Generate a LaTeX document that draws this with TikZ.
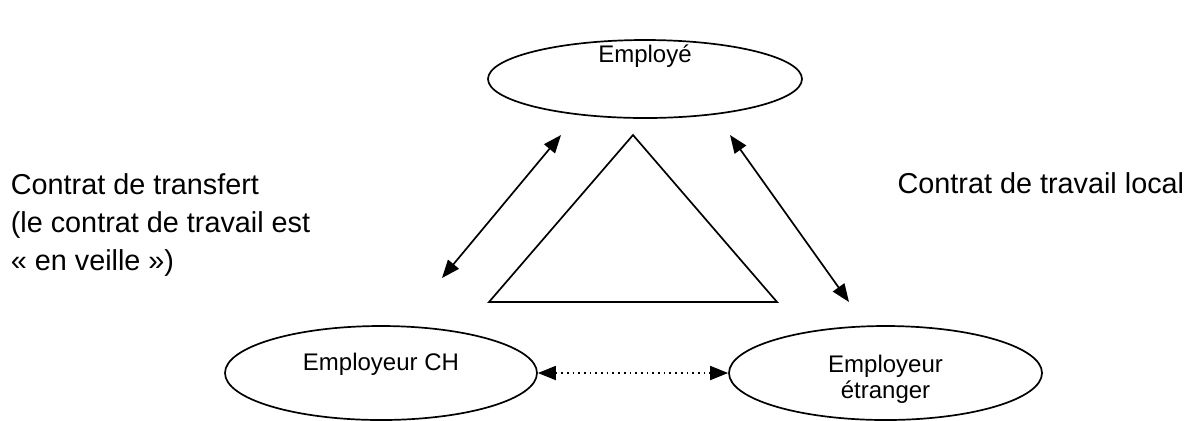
\documentclass[tikz,border=0pt]{standalone}
\usepackage{fontspec}
\setmainfont{Liberation Sans}
\usetikzlibrary{shapes.geometric,arrows.meta}
\begin{document}
\begin{tikzpicture}[x=0.5pt, y=-0.5pt, line width=0.85pt,
    ellipse_style/.style={ellipse,draw=black,inner sep=0pt},
    label_style/.style={font=\fontsize{12}{13}\selectfont,inner sep=0pt},
    side_style/.style={font=\fontsize{14.4}{19}\selectfont,inner sep=0pt,align=left},
    arrow_style/.style={draw=black,{Triangle[length=9pt,width=7pt]}-{Triangle[length=9pt,width=7pt]}}]
  \useasboundingbox (0,0) rectangle (1192,420);
  \draw
    (645,79) node[ellipse_style,minimum width=157pt,minimum height=39pt] (employe){}
    (381,373) node[ellipse_style,minimum width=156pt,minimum height=47pt] (ch){}
    (885.5,373) node[ellipse_style,minimum width=156.5pt,minimum height=47pt] (etranger){};
  \node[label_style,anchor=base] (t_employe) at (645,62) {Employé};
  \node[label_style,anchor=base] (t_ch) at (381,370) {Employeur CH};
  \node[label_style,anchor=base,align=center] (t_etranger) at (885.5,398) {Employeur\\étranger};
  % triangle
  \draw (633,135) coordinate (apex) -- (777,302) coordinate (right) -- (489,302) coordinate (left) -- cycle;
  % contract arrows
  \coordinate (a1) at (442,278);
  \coordinate (a2) at (561,135);
  \coordinate (b1) at (730,135);
  \coordinate (b2) at (849,302);
  \draw[arrow_style] (a1) -- (a2);
  \draw[arrow_style] (b1) -- (b2);
  \draw[arrow_style,dotted] (ch.east) -- (etranger.west);
  % side texts
  \node[side_style,anchor=base west] (transfert) at (10,270) {Contrat de transfert\\(le contrat de travail est\\« en veille »)};
  \node[side_style,anchor=base east] (local) at (1185,193) {Contrat de travail local};
\end{tikzpicture}
\end{document}
